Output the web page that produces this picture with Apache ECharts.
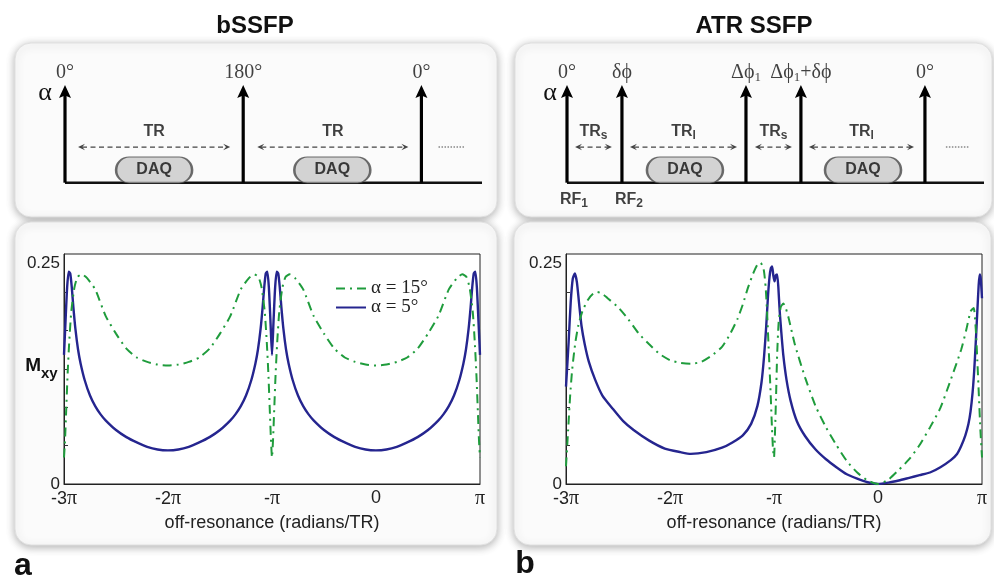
<!DOCTYPE html>
<html><head><meta charset="utf-8">
<script src="https://cdn.jsdelivr.net/npm/echarts@6/dist/echarts.min.js"></script>
<style>html,body{margin:0;padding:0;background:#fff}#c{width:994px;height:583px}</style>
</head><body><div id="c"></div>
<script>
// ---------------- DATA ----------------
const xTicks = [-3, -2, -1, 0, 1];
const xTickLabels = ['-3π', '-2π', '-π', '0', 'π'];
const yLabelValues = [0, 0.25];
const yTickValues = [0.0433, 0.0867, 0.13, 0.1733, 0.2167];
const nameA15 = 'α = 15°';
const nameA5 = 'α = 5°';

// panel a (bSSFP), x in units of π
const bssfp5 = [
 [-3,0.146],[-2.985,0.185],[-2.97,0.222],[-2.955,0.240],[-2.94,0.238],[-2.925,0.222],[-2.91,0.200],[-2.89,0.175],[-2.865,0.152],[-2.84,0.136],[-2.8,0.117],[-2.75,0.100],[-2.7,0.088],[-2.65,0.079],[-2.6,0.072],[-2.5,0.061],[-2.4,0.053],[-2.3,0.047],[-2.2,0.042],[-2.1,0.039],[-2.0,0.038],
 [-1.9,0.039],[-1.8,0.042],[-1.7,0.047],[-1.6,0.053],[-1.5,0.061],[-1.4,0.072],[-1.35,0.079],[-1.3,0.088],[-1.25,0.100],[-1.2,0.117],[-1.16,0.136],[-1.135,0.152],[-1.11,0.175],[-1.09,0.200],[-1.075,0.222],[-1.06,0.238],[-1.045,0.240],[-1.03,0.222],[-1.015,0.185],[-1.0,0.146],
 [-0.985,0.185],[-0.97,0.222],[-0.955,0.240],[-0.94,0.238],[-0.925,0.222],[-0.91,0.200],[-0.89,0.175],[-0.865,0.152],[-0.84,0.136],[-0.8,0.117],[-0.75,0.100],[-0.7,0.088],[-0.65,0.079],[-0.6,0.072],[-0.5,0.061],[-0.4,0.053],[-0.3,0.047],[-0.2,0.042],[-0.1,0.039],[0,0.038],
 [0.1,0.039],[0.2,0.042],[0.3,0.047],[0.4,0.053],[0.5,0.061],[0.6,0.072],[0.65,0.079],[0.7,0.088],[0.75,0.100],[0.8,0.117],[0.84,0.136],[0.865,0.152],[0.89,0.175],[0.91,0.200],[0.925,0.222],[0.94,0.238],[0.955,0.240],[0.97,0.222],[0.985,0.185],[1.0,0.146]
];
const bssfp15 = [
 [-3,0.03],[-2.99,0.05],[-2.98,0.08],[-2.965,0.125],[-2.95,0.16],[-2.93,0.195],[-2.9,0.222],[-2.87,0.234],[-2.83,0.237],[-2.78,0.233],[-2.7,0.22],[-2.6,0.19],[-2.5,0.17],[-2.4,0.153],[-2.3,0.143],[-2.2,0.138],[-2.1,0.135],[-2,0.134],
 [-1.9,0.135],[-1.8,0.138],[-1.7,0.143],[-1.6,0.153],[-1.5,0.17],[-1.4,0.19],[-1.3,0.22],[-1.22,0.233],[-1.17,0.237],[-1.13,0.234],[-1.1,0.222],[-1.07,0.195],[-1.05,0.16],[-1.035,0.125],[-1.02,0.08],[-1.01,0.05],[-1,0.03],
 [-0.99,0.05],[-0.98,0.08],[-0.965,0.125],[-0.95,0.16],[-0.93,0.195],[-0.9,0.222],[-0.87,0.234],[-0.83,0.237],[-0.78,0.233],[-0.7,0.22],[-0.6,0.19],[-0.5,0.17],[-0.4,0.153],[-0.3,0.143],[-0.2,0.138],[-0.1,0.135],[0,0.134],
 [0.1,0.135],[0.2,0.138],[0.3,0.143],[0.4,0.153],[0.5,0.17],[0.6,0.19],[0.7,0.22],[0.78,0.233],[0.83,0.237],[0.87,0.234],[0.9,0.222],[0.93,0.195],[0.95,0.16],[0.965,0.125],[0.98,0.08],[0.99,0.05],[1,0.03]
];
// panel b (ATR SSFP)
const atr5 = [
 [-3,0.11],[-2.975,0.16],[-2.955,0.205],[-2.935,0.232],[-2.915,0.238],[-2.895,0.228],[-2.875,0.205],[-2.85,0.178],[-2.82,0.158],[-2.78,0.138],[-2.72,0.118],[-2.65,0.100],[-2.55,0.085],[-2.45,0.071],[-2.35,0.061],[-2.2,0.049],[-2.05,0.040],[-1.9,0.036],[-1.8,0.034],[-1.65,0.036],[-1.5,0.041],[-1.4,0.047],[-1.3,0.055],[-1.22,0.068],[-1.16,0.088],[-1.12,0.115],[-1.095,0.145],[-1.075,0.178],[-1.058,0.212],[-1.043,0.234],[-1.03,0.244],[-1.018,0.246],[-1.007,0.236],[-0.995,0.229],[-0.982,0.236],[-0.97,0.237],[-0.958,0.222],[-0.945,0.195],[-0.93,0.172],[-0.91,0.145],[-0.88,0.118],[-0.84,0.094],[-0.78,0.071],[-0.7,0.054],[-0.6,0.039],[-0.5,0.028],[-0.4,0.019],[-0.3,0.011],[-0.2,0.006],[-0.1,0.002],[0,0],
 [0.1,0.0015],[0.2,0.004],[0.3,0.007],[0.4,0.010],[0.5,0.013],[0.6,0.019],[0.7,0.027],[0.76,0.034],[0.8,0.043],[0.84,0.055],[0.87,0.068],[0.89,0.082],[0.91,0.104],[0.925,0.128],[0.94,0.16],[0.955,0.195],[0.968,0.225],[0.978,0.237],[0.988,0.232],[1,0.21]
];
const atr15 = [
 [-3,0.02],[-2.98,0.06],[-2.96,0.10],[-2.94,0.13],[-2.91,0.16],[-2.88,0.18],[-2.84,0.196],[-2.79,0.208],[-2.74,0.215],[-2.7,0.217],[-2.65,0.215],[-2.6,0.21],[-2.5,0.2],[-2.4,0.186],[-2.3,0.17],[-2.2,0.158],[-2.1,0.147],[-2.0,0.14],[-1.9,0.137],[-1.8,0.136],[-1.7,0.138],[-1.6,0.145],[-1.5,0.155],[-1.42,0.17],[-1.35,0.187],[-1.3,0.203],[-1.25,0.222],[-1.2,0.238],[-1.16,0.248],[-1.13,0.25],[-1.1,0.243],[-1.08,0.222],[-1.065,0.19],[-1.05,0.15],[-1.035,0.11],[-1.02,0.065],[-1.01,0.04],[-1.0,0.03],
 [-0.99,0.06],[-0.98,0.10],[-0.97,0.145],[-0.955,0.183],[-0.935,0.2],[-0.91,0.204],[-0.885,0.198],[-0.86,0.188],[-0.8,0.158],[-0.7,0.12],[-0.6,0.088],[-0.5,0.064],[-0.4,0.044],[-0.3,0.026],[-0.2,0.013],[-0.1,0.004],[0,0],
 [0.1,0.005],[0.2,0.016],[0.3,0.028],[0.4,0.044],[0.5,0.064],[0.6,0.086],[0.7,0.118],[0.8,0.152],[0.85,0.175],[0.89,0.195],[0.92,0.199],[0.94,0.175],[0.955,0.14],[0.97,0.10],[0.985,0.06],[1,0.03]
];

// pulse-sequence diagrams (time in TR units)
const baseA = [0, 2.34];
const pulseA_t = [0, 1, 2];
const pulseA_label = ['{t|0°}', '{t|180°}', '{t|0°}'];
const trA_span = [[0.073, 0.927], [1.079, 1.927]];
const trA_label = ['{b|TR}', '{b|TR}'];
const daqA_t = [0.5, 1.5];
const dotsA = [2.096, 2.247];

const baseB = [0, 2.33];
const pulseB_t = [0, 0.307, 1, 1.307, 2];
const pulseB_label = ['{t|0°}', '{t|δϕ}', '{t|Δϕ}{s|1}', '{t|Δϕ}{s|1}{t|+δϕ}', '{t|0°}'];
const rfB_label = ['{b|RF}{s|1}', '{b|RF}{s|2}'];
const trB_span = [[0.045, 0.251], [0.352, 0.95], [1.05, 1.257], [1.352, 1.939]];
const trB_label = ['{b|TR}{s|s}', '{b|TR}{s|l}', '{b|TR}{s|s}', '{b|TR}{s|l}'];
const daqB_t = [0.659, 1.654];
const dotsB = [2.117, 2.246];

// ---------------- CHART ----------------
const SANS = 'Liberation Sans', SERIF = 'Liberation Serif';
const TR_Y = 0.365, TRLAB_Y = 0.52, DAQ_Y = 0.13;
const chart = echarts.init(document.getElementById('c'), null, {renderer: 'canvas'});

function fmtX(v) {
  const i = xTicks.indexOf(v);
  if (i < 0) return '';
  const s = xTickLabels[i];
  const parts = s.split('π');
  let out = parts[0] ? '{n|' + parts[0] + '}' : '';
  if (s.indexOf('π') >= 0) out += '{p|π}';
  return out;
}
function fmtY(v) {
  if (Math.abs(v) < 1e-9) return '0';
  if (Math.abs(v - 0.25) < 1e-9) return '0.25';
  return '';
}
function plotX(gi) {
  return {gridIndex: gi, type: 'value', min: -3, max: 1, interval: 1,
    axisLine: {show: true, onZero: false, lineStyle: {color: '#222', width: 1}},
    axisTick: {show: false}, splitLine: {show: false},
    axisLabel: {margin: 5, formatter: fmtX, rich: {
      n: {fontFamily: SANS, fontSize: 18, color: '#222'},
      p: {fontFamily: SERIF, fontSize: 20, color: '#222'}}},
    name: 'off-resonance (radians/TR)', nameLocation: 'middle', nameGap: 30,
    nameTextStyle: {fontFamily: SANS, fontSize: 18, color: '#222'}};
}
function plotY(gi) {
  return {gridIndex: gi, type: 'value', min: 0, max: 0.26,
    axisLine: {show: true, onZero: false, lineStyle: {color: '#222', width: 1}},
    axisTick: {show: true, inside: true, length: 4, customValues: yTickValues, lineStyle: {color: '#333'}},
    axisLabel: {customValues: yLabelValues, formatter: fmtY, fontFamily: SANS, fontSize: 17, color: '#222', margin: 4},
    splitLine: {show: false}};
}
function diagX(gi, max) { return {gridIndex: gi, type: 'value', min: 0, max: max, show: false}; }
function diagY(gi) { return {gridIndex: gi, type: 'value', min: 0, max: 1, show: false}; }

function renderPulse(params, api) {
  const b = api.coord([api.value(0), 0]);
  const t = api.coord([api.value(0), 1]);
  return {type: 'group', children: [
    {type: 'line', shape: {x1: b[0], y1: b[1], x2: t[0], y2: t[1] + 9}, style: {stroke: '#000', lineWidth: 3.2}},
    {type: 'polygon', shape: {points: [[t[0], t[1]], [t[0] + 6, t[1] + 13], [t[0], t[1] + 10.5], [t[0] - 6, t[1] + 13]]}, style: {fill: '#000'}}
  ]};
}
function renderTR(params, api) {
  const s = api.coord([api.value(0), TR_Y]);
  const e = api.coord([api.value(1), TR_Y]);
  const y = s[1], hl = 7, hw = 3.2;
  return {type: 'group', children: [
    {type: 'line', shape: {x1: s[0] + 4, y1: y, x2: e[0] - 4, y2: y}, style: {stroke: '#444', lineWidth: 1.3, lineDash: [5, 3.5]}},
    {type: 'polygon', shape: {points: [[s[0], y], [s[0] + hl, y - hw], [s[0] + hl * 0.6, y], [s[0] + hl, y + hw]]}, style: {fill: '#444'}},
    {type: 'polygon', shape: {points: [[e[0], y], [e[0] - hl, y - hw], [e[0] - hl * 0.6, y], [e[0] - hl, y + hw]]}, style: {fill: '#444'}}
  ]};
}
function renderDots(params, api) {
  const s = api.coord([api.value(0), TR_Y]);
  const e = api.coord([api.value(1), TR_Y]);
  return {type: 'line', shape: {x1: s[0], y1: s[1], x2: e[0], y2: e[1]}, style: {stroke: '#888', lineWidth: 1.4, lineDash: [1.5, 1.5]}};
}

const pulseRich = {
  t: {fontFamily: SERIF, fontSize: 20, lineHeight: 22, color: '#111'},
  s: {fontFamily: SERIF, fontSize: 13, lineHeight: 10, verticalAlign: 'bottom', color: '#111'}
};
const boldRich = {
  b: {fontFamily: SANS, fontWeight: 'bold', fontSize: 16, lineHeight: 20, color: '#111'},
  s: {fontFamily: SANS, fontWeight: 'bold', fontSize: 12, lineHeight: 8, verticalAlign: 'bottom', color: '#111'}
};
const pillPath = 'path://M13,0 L63,0 A13,13 0 0 1 63,26 L13,26 A13,13 0 0 1 13,0 Z';

function diagramSeries(gi, base, pulses, plabels, trs, trlabels, daqs, dots, rfLabels) {
  const list = [];
  list.push({type: 'line', xAxisIndex: gi, yAxisIndex: gi, data: [[base[0], 0], [base[1], 0]], symbol: 'none',
    lineStyle: {color: '#111', width: 2.6}, silent: true, z: 2});
  list.push({type: 'custom', xAxisIndex: gi, yAxisIndex: gi, data: pulses.map(t => [t]), renderItem: renderPulse, silent: true, z: 3});
  list.push({type: 'custom', xAxisIndex: gi, yAxisIndex: gi, data: trs, renderItem: renderTR, silent: true, z: 3});
  list.push({type: 'custom', xAxisIndex: gi, yAxisIndex: gi, data: [dots], renderItem: renderDots, silent: true, z: 3});
  list.push({type: 'scatter', xAxisIndex: gi, yAxisIndex: gi, symbol: pillPath, symbolSize: [76, 26], clip: false, silent: true, z: 5,
    data: daqs.map(t => [t, DAQ_Y]),
    itemStyle: {color: '#c9c9c9', borderColor: '#4a4a4a', borderWidth: 1.5},
    label: {show: true, position: 'inside', formatter: 'DAQ', fontFamily: SANS, fontWeight: 'bold', fontSize: 16, color: '#111'}});
  list.push({type: 'scatter', xAxisIndex: gi, yAxisIndex: gi, symbolSize: 0, clip: false, silent: true, z: 6,
    data: pulses.map(t => [t, 1]),
    label: {show: true, position: 'top', distance: 1, formatter: p => plabels[p.dataIndex], rich: pulseRich}});
  list.push({type: 'scatter', xAxisIndex: gi, yAxisIndex: gi, symbolSize: 0, clip: false, silent: true, z: 6,
    data: trs.map(s => [(s[0] + s[1]) / 2, TRLAB_Y]),
    label: {show: true, position: 'inside', formatter: p => trlabels[p.dataIndex], rich: boldRich}});
  if (rfLabels) {
    list.push({type: 'scatter', xAxisIndex: gi, yAxisIndex: gi, symbolSize: 0, clip: false, silent: true, z: 6,
      data: rfLabels.map((l, i) => [pulses[i], 0]),
      label: {show: true, position: 'bottom', distance: 7, offset: [7, 0], formatter: p => rfLabels[p.dataIndex], rich: boldRich}});
  }
  return list;
}

function box(x, y, w, h) {
  return {type: 'rect', z: -10, silent: true, shape: {x: x, y: y, width: w, height: h, r: 16},
    style: {fill: '#fbfbfb', stroke: '#e0e0e0', lineWidth: 1, shadowBlur: 9, shadowColor: 'rgba(0,0,0,0.3)', shadowOffsetX: 0, shadowOffsetY: 2}};
}
function txt(x, y, text, font, align) {
  const a = align || 'center';
  return {type: 'text', x: x, y: y, z: 10, silent: true,
    style: {text: text, font: font, fill: '#111', textAlign: a, textVerticalAlign: 'middle', align: a, verticalAlign: 'middle'}};
}

const lineA = {color: '#25258f', width: 2.4};
const lineG = {color: '#1f9c3c', width: 2, type: [9, 5, 2, 5]};

const option = {
  animation: false,
  backgroundColor: '#ffffff',
  graphic: [
    box(15, 43, 482, 174), box(515, 43, 477, 174),
    box(15, 222, 482, 323), box(514, 222, 477, 323),
    txt(255, 26, 'bSSFP', 'bold 24px "Liberation Sans"'),
    txt(754, 26, 'ATR SSFP', 'bold 24px "Liberation Sans"'),
    txt(23, 566, 'a', 'bold 32px "Liberation Sans"'),
    txt(525, 564, 'b', 'bold 32px "Liberation Sans"'),
    txt(45, 93, 'α', '26px "Liberation Serif"'),
    txt(550, 93, 'α', '26px "Liberation Serif"'),
    txt(41, 366, 'M', 'bold 19px "Liberation Sans"', 'right'),
    txt(41, 374, 'xy', 'bold 15px "Liberation Sans"', 'left')
  ],
  legend: {data: [nameA15, nameA5], orient: 'vertical', left: 335, top: 279, padding: 0,
    itemWidth: 30, itemHeight: 10, itemGap: 0, selectedMode: false,
    itemStyle: {color: 'transparent', borderWidth: 0, opacity: 0},
    textStyle: {fontFamily: SERIF, fontSize: 19, color: '#222', lineHeight: 15}},
  grid: [
    {left: 65, top: 85, width: 417, height: 97.7},
    {left: 567, top: 85, width: 417, height: 97.7},
    {left: 64, top: 254, width: 416, height: 230, show: true, borderColor: '#222', borderWidth: 1, backgroundColor: '#fff'},
    {left: 566, top: 254, width: 416, height: 230, show: true, borderColor: '#222', borderWidth: 1, backgroundColor: '#fff'}
  ],
  xAxis: [diagX(0, baseA[1]), diagX(1, baseB[1]), plotX(2), plotX(3)],
  yAxis: [diagY(0), diagY(1), plotY(2), plotY(3)],
  series: [].concat(
    diagramSeries(0, baseA, pulseA_t, pulseA_label, trA_span, trA_label, daqA_t, dotsA, null),
    diagramSeries(1, baseB, pulseB_t, pulseB_label, trB_span, trB_label, daqB_t, dotsB, rfB_label),
    [
      {type: 'line', name: nameA5, xAxisIndex: 2, yAxisIndex: 2, data: bssfp5, symbol: 'none', smooth: 0.2, lineStyle: lineA, itemStyle: {color: lineA.color}, z: 3, silent: true},
      {type: 'line', name: nameA15, xAxisIndex: 2, yAxisIndex: 2, data: bssfp15, symbol: 'none', smooth: 0.2, lineStyle: lineG, itemStyle: {color: lineG.color}, z: 4, silent: true},
      {type: 'line', name: nameA5, xAxisIndex: 3, yAxisIndex: 3, data: atr5, symbol: 'none', smooth: 0.2, lineStyle: lineA, itemStyle: {color: lineA.color}, z: 3, silent: true},
      {type: 'line', name: nameA15, xAxisIndex: 3, yAxisIndex: 3, data: atr15, symbol: 'none', smooth: 0.2, lineStyle: lineG, itemStyle: {color: lineG.color}, z: 4, silent: true}
    ]
  )
};
chart.setOption(option);
</script>
</body></html>
